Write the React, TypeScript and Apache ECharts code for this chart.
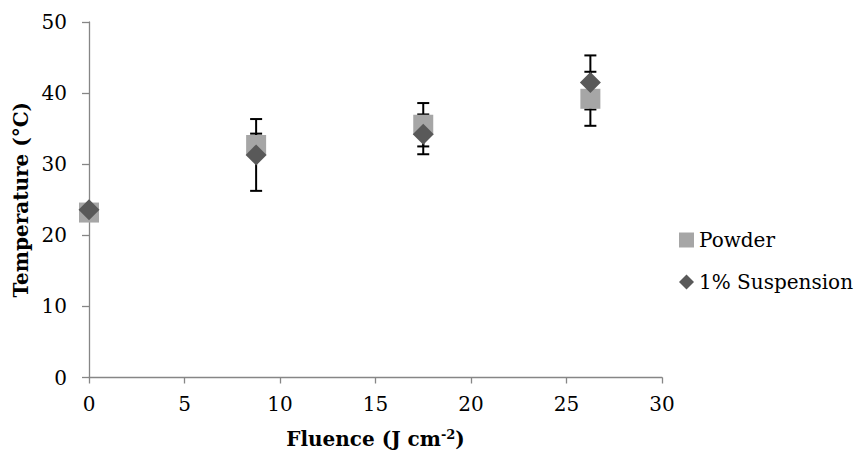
import React, { useEffect, useRef } from "react";
import * as echarts from "echarts";

const fluence = [0, 8.75, 17.5, 26.25];
const powder = [23.2, 32.7, 35.55, 39.2];
const powderErr = [0, 1.6, 3.05, 3.8];
const suspension = [23.6, 31.3, 34.2, 41.5];
const suspensionErr = [0, 5.05, 2.8, 3.8];
const seriesNames = ["Powder", "1% Suspension"];

const FONT = "DejaVu Serif";

function errorBarSeries(name: string, ys: number[], errs: number[]) {
  const data = fluence.map((x, i) => [x, ys[i] - errs[i], ys[i] + errs[i]]);
  return {
    type: "custom",
    name: name + " error",
    z: 1,
    silent: true,
    data,
    renderItem: (params: any, api: any) => {
      const x = api.value(0);
      const lo = api.coord([x, api.value(1)]);
      const hi = api.coord([x, api.value(2)]);
      const hw = 6;
      const style = { stroke: "#000000", lineWidth: 2 };
      return {
        type: "group",
        children: [
          { type: "line", shape: { x1: lo[0], y1: lo[1], x2: hi[0], y2: hi[1] }, style },
          { type: "line", shape: { x1: hi[0] - hw, y1: hi[1], x2: hi[0] + hw, y2: hi[1] }, style },
          { type: "line", shape: { x1: lo[0] - hw, y1: lo[1], x2: lo[0] + hw, y2: lo[1] }, style },
        ],
      };
    },
  };
}

export default function App() {
  const ref = useRef<HTMLDivElement>(null);
  useEffect(() => {
    if (!ref.current) return;
    const chart = echarts.init(ref.current, null, { renderer: "svg" });
    const axisLine = { lineStyle: { color: "#868686", width: 1.3 } };
    chart.setOption({
      animation: false,
      backgroundColor: "#ffffff",
      textStyle: { fontFamily: FONT },
      grid: { left: 89, right: 192, top: 22, bottom: 78.5 },
      legend: {
        orient: "vertical",
        left: 674,
        top: 225,
        itemWidth: 15,
        itemHeight: 15,
        itemGap: 22,
        data: [
          { name: seriesNames[0], icon: "rect" },
          { name: seriesNames[1], icon: "diamond" },
        ],
        textStyle: { fontFamily: FONT, fontSize: 20, color: "#000000" },
      },
      xAxis: {
        type: "value",
        min: 0,
        max: 30,
        interval: 5,
        name: "Fluence (J cm{sup|-2})",
        nameLocation: "middle",
        nameGap: 50,
        nameTextStyle: {
          fontFamily: FONT,
          fontSize: 20,
          fontWeight: "bold",
          color: "#000000",
          rich: {
            sup: { fontFamily: FONT, fontSize: 13, fontWeight: "bold", color: "#000000", padding: [0, 0, 10, 0] },
          },
        },
        axisLine: { show: true, ...axisLine },
        axisTick: { show: true, length: 6, lineStyle: { color: "#868686", width: 1.3 } },
        axisLabel: { fontFamily: FONT, fontSize: 20, color: "#000000", margin: 16 },
        splitLine: { show: false },
      },
      yAxis: {
        type: "value",
        min: 0,
        max: 50,
        interval: 10,
        name: "Temperature (°C)",
        nameLocation: "middle",
        nameGap: 55,
        nameTextStyle: { fontFamily: FONT, fontSize: 20, fontWeight: "bold", color: "#000000" },
        axisLine: { show: true, ...axisLine },
        axisTick: { show: true, length: 7, lineStyle: { color: "#868686", width: 1.3 } },
        axisLabel: { fontFamily: FONT, fontSize: 20, color: "#000000", margin: 22 },
        splitLine: { show: false },
      },
      series: [
        errorBarSeries(seriesNames[0], powder, powderErr),
        errorBarSeries(seriesNames[1], suspension, suspensionErr),
        {
          type: "scatter",
          name: seriesNames[0],
          symbol: "rect",
          symbolSize: 20,
          z: 3,
          itemStyle: { color: "#A6A6A6", opacity: 1 },
          data: fluence.map((x, i) => [x, powder[i]]),
        },
        {
          type: "scatter",
          name: seriesNames[1],
          symbol: "diamond",
          symbolSize: 21,
          z: 4,
          itemStyle: { color: "#595959", opacity: 1 },
          data: fluence.map((x, i) => [x, suspension[i]]),
        },
      ],
    });
    return () => chart.dispose();
  }, []);
  return (
    <div
      ref={ref}
      style={{ position: "fixed", left: 0, top: 0, width: 854, height: 456, background: "#fff" }}
    />
  );
}
